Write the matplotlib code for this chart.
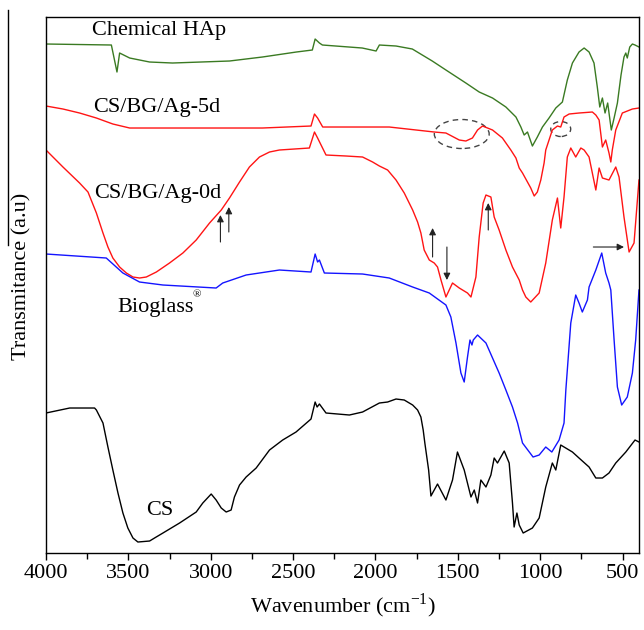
import matplotlib
matplotlib.use("Agg")
import matplotlib.pyplot as plt
from matplotlib.patches import Ellipse
from matplotlib.lines import Line2D

plt.rcParams['font.family'] = ['Liberation Serif', 'DejaVu Serif']
plt.rcParams['mathtext.fontset'] = 'custom'
plt.rcParams['mathtext.rm'] = 'Liberation Serif'

# spectra (wavenumber cm-1, transmittance a.u. with vertical offsets)
hap_wn = [4000, 3603, 3569, 3553, 3492, 3371, 3232, 2886, 2686, 2480, 2383, 2366, 2340, 2322,
          2080, 1996, 1976, 1875, 1776, 1655, 1572, 1451, 1370, 1289, 1208, 1147, 1117, 1097,
          1077, 1047, 1017, 986, 946, 905, 865, 835, 804, 764, 733, 703, 673, 653,
          638, 622, 606, 590, 568, 551, 531, 509, 491, 480, 471, 456, 440, 424, 400]
hap_t = [509, 508, 481, 500, 495, 491, 490, 492, 496, 501, 503, 514, 510, 508,
         505, 502, 508, 507, 504, 492, 483, 470, 461, 455, 446, 436, 426, 418,
         421, 407, 416, 426, 435, 445, 451, 473, 490, 501, 505, 501, 490, 466,
         446, 455, 440, 450, 423, 435, 450, 478, 496, 500, 495, 506, 509, 508, 506]

ag5_wn = [4000, 3897, 3796, 3694, 3594, 3492, 3250, 2686, 2391, 2370, 2351, 2320, 1916, 1643,
          1572, 1491, 1451, 1411, 1380, 1350, 1289, 1229, 1178, 1147, 1127, 1107, 1077, 1057,
          1036, 1017, 996, 976, 966, 926, 895, 875, 855, 824, 764, 683, 662, 642,
          622, 602, 582, 571, 562, 541, 501, 440, 400]
ag5_t = [447, 444, 440, 435, 429, 425, 425, 425, 427, 439, 435, 426, 426, 421,
         420, 413, 412, 415, 423, 427, 423, 415, 403, 395, 385, 380, 371, 365,
         357, 361, 373, 390, 403, 423, 427, 426, 436, 439, 440, 441, 438, 433,
         406, 413, 400, 391, 403, 423, 440, 444, 445]

ag0_wn = [4000, 3897, 3796, 3745, 3694, 3654, 3624, 3594, 3553, 3512,
          3472, 3432, 3391, 3330, 3250, 3169, 3088, 3007, 2936, 2886,
          2825, 2765, 2704, 2643, 2583, 2401, 2370, 2351, 2300, 2178,
          2078, 2017, 1976, 1926, 1875, 1825, 1774, 1744, 1724, 1704,
          1673, 1643, 1623, 1602, 1572, 1552, 1532, 1491, 1471, 1441,
          1420, 1390, 1370, 1346, 1329, 1299, 1279, 1249, 1208, 1168,
          1127, 1107, 1087, 1057, 1006, 966, 926, 895, 875, 855,
          835, 814, 784, 753, 733, 703, 662, 642, 622, 582,
          541, 521, 491, 460, 430, 400]
ag0_t = [403, 386, 370, 361, 340, 320, 306, 295, 286, 280,
         276, 275, 276, 281, 290, 300, 313, 330, 343, 355,
         371, 386, 396, 401, 403, 405, 421, 415, 398, 397,
         396, 391, 387, 383, 373, 360, 343, 331, 320, 303,
         293, 290, 286, 273, 256, 263, 270, 265, 263, 260,
         256, 276, 316, 350, 358, 356, 336, 323, 303, 286,
         273, 263, 256, 251, 260, 290, 333, 355, 325, 356,
         396, 405, 396, 405, 403, 396, 363, 385, 375, 373,
         386, 376, 336, 301, 310, 373]

bg_wn = [4000, 3634, 3533, 3432, 3290, 2967, 2927, 2785, 2583, 2391,
         2366, 2351, 2340, 2310, 2078, 1916, 1774, 1673, 1572, 1542,
         1511, 1481, 1461, 1441, 1426, 1414, 1406, 1380, 1329, 1289,
         1249, 1208, 1168, 1137, 1107, 1043, 1006, 966, 929, 885,
         855, 844, 814, 784, 764, 744, 713, 703, 662, 626,
         602, 582, 571, 551, 531, 505, 471, 440, 420, 400]
bg_t = [299, 295, 280, 271, 268, 265, 270, 278, 283, 281,
        299, 291, 293, 280, 279, 275, 266, 260, 248, 236,
        210, 180, 171, 196, 213, 208, 213, 218, 210, 195,
        180, 163, 146, 130, 110, 96, 98, 106, 101, 113,
        130, 163, 230, 258, 250, 241, 253, 266, 283, 300,
        280, 270, 263, 213, 166, 148, 156, 180, 213, 263]

cs_wn = [4000, 3856, 3705, 3694, 3654, 3624, 3594, 3563, 3533, 3503,
         3472, 3442, 3371, 3341, 3290, 3189, 3088, 3048, 2997, 2967,
         2936, 2906, 2876, 2856, 2825, 2785, 2724, 2643, 2563, 2482,
         2391, 2366, 2354, 2340, 2300, 2158, 2078, 1976, 1926, 1875,
         1825, 1774, 1744, 1724, 1710, 1700, 1677, 1663, 1623, 1572,
         1532, 1502, 1461, 1420, 1400, 1380, 1360, 1329, 1299, 1279,
         1259, 1218, 1188, 1168, 1158, 1141, 1127, 1103, 1047, 1006,
         966, 926, 905, 875, 804, 764, 703, 662, 622, 582,
         541, 480, 424, 400]
cs_t = [140, 145, 145, 143, 130, 106, 83, 60, 40, 25,
        15, 11, 12, 15, 20, 30, 41, 50, 59, 53,
        45, 41, 43, 56, 68, 76, 85, 103, 113, 121,
        134, 151, 146, 149, 140, 138, 141, 150, 151, 154,
        153, 148, 143, 136, 123, 110, 83, 57, 69, 53,
        73, 101, 83, 56, 63, 50, 73, 66, 78, 95,
        90, 102, 90, 50, 26, 40, 28, 20, 25, 35,
        66, 90, 83, 108, 101, 95, 86, 75, 75, 80,
        90, 101, 113, 111]

spectra = [
    (hap_wn, hap_t, '#3a7a22'),
    (ag5_wn, ag5_t, '#ff1414'),
    (ag0_wn, ag0_t, '#ff1414'),
    (bg_wn, bg_t, '#1414ff'),
    (cs_wn, cs_t, 'black'),
]

# curve labels: text, wavenumber (left edge), level
labels = [
    ('Chemical HAp', 3723, 523),
    ('CS/BG/Ag-5d', 3715, 446),
    ('CS/BG/Ag-0d', 3705, 360),
    ('Bioglass', 3565, 246),
    ('CS', 3391, 43),
]

# arrows: (x_from, y_from, x_to, y_to)
arrows = [
    (2941, 311, 2941, 338),
    (2890, 321, 2890, 346),
    (1653, 296, 1653, 325),
    (1566, 306, 1566, 273),
    (1315, 323, 1315, 350),
    (677, 306, 491, 306),
]

fig = plt.figure(figsize=(6.44, 6.30), dpi=100)
ax = fig.add_axes([0.0714, 0.1222, 0.9208, 0.8508])

for wn, t, c in spectra:
    ax.plot(wn, t, color=c, lw=1.0)

for txt, x, y in labels:
    ax.text(x, y, txt, fontsize=16, ha='left', va='center')
ax.text(3110, 258, '\u00ae', fontsize=8, ha='left', va='center')

for x0, y0, x1, y1 in arrows:
    ax.annotate('', xy=(x1, y1), xytext=(x0, y0),
                arrowprops=dict(arrowstyle='-|>', color='#222222', lw=0.8,
                                mutation_scale=10, shrinkA=0, shrinkB=0))

ax.add_patch(Ellipse((1476, 419), 333, 29, fill=False, ls=(0, (4, 3)),
                     ec='#444444', lw=1.0))
ax.add_patch(Ellipse((875, 424), 121, 15, fill=False, ls=(0, (4, 3)),
                     ec='#444444', lw=1.0))

ax.set_xlim(4000, 400)
ax.set_ylim(0, 536)
ax.set_xticks(range(4000, 400, -500))
ax.set_xticks(range(3750, 400, -500), minor=True)
ax.set_yticks([])
ax.tick_params(axis='x', which='major', direction='out', length=5, width=1.0,
               labelsize=16, pad=3)
ax.tick_params(axis='x', which='minor', direction='out', length=4, width=1.0)
for s in ax.spines.values():
    s.set_linewidth(1.0)

ax.set_xlabel('Wavenumber (cm$^{\\mathregular{-1}}$)', fontsize=16, labelpad=6)
ax.set_ylabel('Transmitance (a.u)', fontsize=16)
ax.yaxis.set_label_coords(-0.025, 0.517)

fig.add_artist(Line2D([8 / 644, 8 / 644], [1 - 10 / 630, 1 - 245 / 630],
                      color='black', lw=1.0))

fig.savefig('out.png', dpi=100)
